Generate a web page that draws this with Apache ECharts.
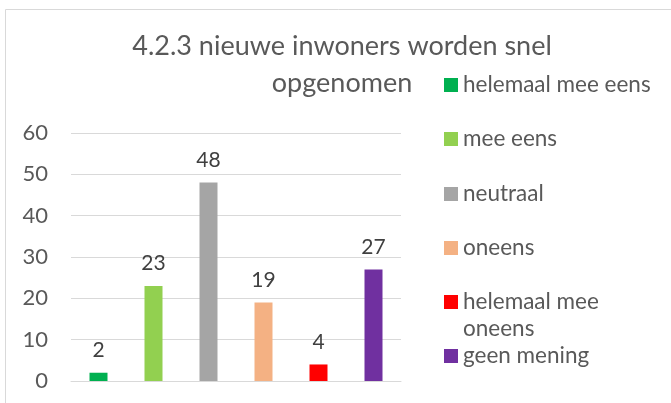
<!DOCTYPE html>
<html>
<head>
<meta charset="utf-8">
<script src="https://cdn.jsdelivr.net/npm/echarts@6/dist/echarts.min.js"></script>
<style>
  html, body { margin: 0; padding: 0; background: #fff; }
  #chart { width: 671px; height: 403px; }
</style>
</head>
<body>
<div id="chart"></div>
<script>
const titleText = '4.2.3 nieuwe inwoners worden snel\nopgenomen';
const categories = ['helemaal mee eens', 'mee eens', 'neutraal', 'oneens', 'helemaal mee oneens', 'geen mening'];
const values = [2, 23, 48, 19, 4, 27];
const colors = ['#00B050', '#92D050', '#A5A5A5', '#F4B183', '#FF0000', '#7030A0'];
const legendLabels = ['helemaal mee eens', 'mee eens', 'neutraal', 'oneens', '\nhelemaal mee\noneens', 'geen mening'];
const yTicks = { min: 0, max: 60, interval: 10 };

const FONT = 'Lato';
const chart = echarts.init(document.getElementById('chart'));

// one series per answer, so every bar gets its own legend entry
const series = categories.map((name, i) => ({
  name: name,
  type: 'bar',
  stack: 'all',
  barWidth: 18,
  itemStyle: { color: colors[i] },
  label: {
    show: true,
    position: 'top',
    distance: 12,
    fontFamily: FONT,
    fontSize: 21,
    color: '#404040'
  },
  data: categories.map((c, j) => (j === i ? values[i] : '-'))
}));

// legend entries are ~54px apart; the two-line one keeps its marker on the first line
const legendCenters = [85, 139, 194, 248, 302, 356];
const legends = categories.map((name, i) => {
  const lines = legendLabels[i].split('\n').length;
  return {
    data: [name],
    left: 444,
    top: legendCenters[i] - (lines * 27) / 2,
    padding: 0,
    itemWidth: 14,
    itemHeight: 14,
    icon: 'rect',
    selectedMode: false,
    formatter: () => legendLabels[i],
    textStyle: { fontFamily: FONT, fontSize: 22.5, color: '#595959', lineHeight: 27 }
  };
});

chart.setOption({
  animation: false,
  title: {
    text: titleText,
    left: 342,
    top: 28,
    textAlign: 'center',
    padding: 0,
    textStyle: { fontFamily: FONT, fontSize: 27, fontWeight: 'normal', color: '#595959', lineHeight: 37 }
  },
  legend: legends,
  graphic: [{
    type: 'rect',
    shape: { x: 5.5, y: 9.5, width: 700, height: 500 },
    style: { fill: 'none', stroke: '#D9D9D9', lineWidth: 1 },
    silent: true
  }],
  grid: { left: 71, right: 270, top: 133, bottom: 22 },
  xAxis: {
    type: 'category',
    data: categories,
    axisLine: { lineStyle: { color: '#D9D9D9', width: 1 } },
    axisTick: { show: false },
    axisLabel: { show: false }
  },
  yAxis: {
    type: 'value',
    min: yTicks.min,
    max: yTicks.max,
    interval: yTicks.interval,
    axisLine: { show: false },
    axisTick: { show: false },
    splitLine: { lineStyle: { color: '#D9D9D9', width: 1 } },
    axisLabel: { fontFamily: FONT, fontSize: 22, color: '#595959', margin: 23 }
  },
  series: series
});
</script>
</body>
</html>
